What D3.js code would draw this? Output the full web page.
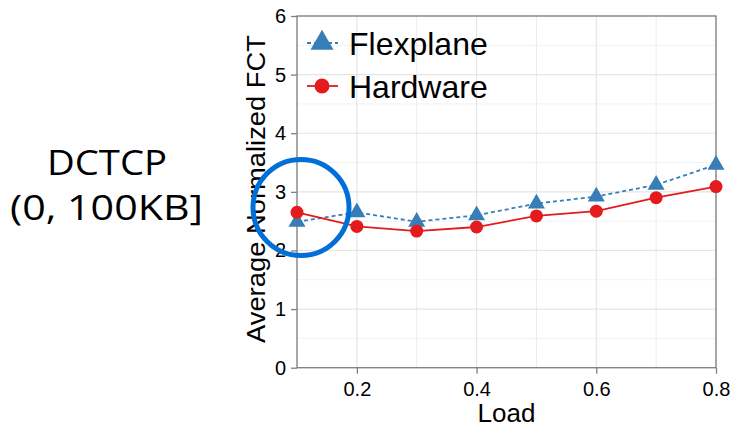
<!DOCTYPE html>
<html>
<head>
<meta charset="utf-8">
<script src="https://cdn.jsdelivr.net/npm/d3@7"></script>
<style>
  body { margin: 0; background: #fff; }
  svg { display: block; }
</style>
</head>
<body>
<svg id="chart" width="732" height="424"></svg>
<script>
// data
const loads = [0.1, 0.2, 0.3, 0.4, 0.5, 0.6, 0.7, 0.8];
const flexplane = [2.49, 2.65, 2.49, 2.60, 2.80, 2.92, 3.12, 3.46];
const hardware = [2.65, 2.41, 2.33, 2.40, 2.59, 2.67, 2.90, 3.09];
const xTicks = [0.2, 0.4, 0.6, 0.8];
const yTicks = [0, 1, 2, 3, 4, 5, 6];
const seriesNames = ['Flexplane', 'Hardware'];

const svg = d3.select('#chart');
const x = d3.scaleLinear().domain([0.1, 0.8]).range([297, 716]);
const y = d3.scaleLinear().domain([0, 6]).range([367.7, 16]);
const blue = '#377eb8', red = '#e41a1c';
const font = 'Liberation Sans, Arial, Helvetica, sans-serif';

// grid lines
const minorX = [0.1, 0.3, 0.5, 0.7];
const minorY = d3.range(0.5, 6, 1);
svg.append('g').selectAll('line').data(minorY).join('line')
    .attr('x1', x(0.1)).attr('x2', x(0.8))
    .attr('y1', d => y(d)).attr('y2', d => y(d))
    .attr('stroke', '#f2f2f2').attr('stroke-width', 1);
svg.append('g').selectAll('line').data(minorX).join('line')
    .attr('y1', y(0)).attr('y2', y(6))
    .attr('x1', d => x(d)).attr('x2', d => x(d))
    .attr('stroke', '#ebebeb').attr('stroke-width', 1);
svg.append('g').selectAll('line').data(yTicks).join('line')
    .attr('x1', x(0.1)).attr('x2', x(0.8))
    .attr('y1', d => y(d)).attr('y2', d => y(d))
    .attr('stroke', '#e5e5e5').attr('stroke-width', 1.2);
svg.append('g').selectAll('line').data(xTicks).join('line')
    .attr('y1', y(0)).attr('y2', y(6))
    .attr('x1', d => x(d)).attr('x2', d => x(d))
    .attr('stroke', '#e5e5e5').attr('stroke-width', 1.2);

// panel border
svg.append('rect')
    .attr('x', x(0.1)).attr('y', y(6))
    .attr('width', x(0.8) - x(0.1)).attr('height', y(0) - y(6))
    .attr('fill', 'none').attr('stroke', '#7f7f7f').attr('stroke-width', 1.3);

// axes
const xAxis = svg.append('g').attr('transform', `translate(0,${y(0)})`)
    .call(d3.axisBottom(x).tickValues(xTicks).tickFormat(d3.format('.1f')).tickSize(6).tickPadding(8));
const yAxis = svg.append('g').attr('transform', `translate(${x(0.1)},0)`)
    .call(d3.axisLeft(y).tickValues(yTicks).tickFormat(d3.format('d')).tickSize(6).tickPadding(5));
[xAxis, yAxis].forEach(a => {
  a.select('.domain').remove();
  a.selectAll('line').attr('stroke', '#7f7f7f').attr('stroke-width', 1.3);
  a.selectAll('text').attr('fill', '#000').style('font-family', font).style('font-size', '20px');
});

// axis titles
svg.append('text').attr('x', x(0.45)).attr('y', 422)
    .attr('text-anchor', 'middle').style('font-family', font).style('font-size', '26px')
    .text('Load');
svg.append('text').attr('transform', 'translate(265,189) rotate(-90)')
    .attr('text-anchor', 'middle').style('font-family', font).style('font-size', '25px')
    .attr('textLength', 308).attr('lengthAdjust', 'spacingAndGlyphs')
    .text('Average Normalized FCT');

// lines
const line = d3.line().x((d, i) => x(loads[i])).y(d => y(d));
svg.append('path').datum(flexplane).attr('d', line)
    .attr('fill', 'none').attr('stroke', blue).attr('stroke-width', 1.8)
    .attr('stroke-dasharray', '4,3');
svg.append('path').datum(hardware).attr('d', line)
    .attr('fill', 'none').attr('stroke', red).attr('stroke-width', 1.8);

// markers
const tri = d3.symbol().type(d3.symbolTriangle).size(125);
const triBig = d3.symbol().type(d3.symbolTriangle).size(230);
svg.append('g').selectAll('path').data(flexplane).join('path')
    .attr('d', tri)
    .attr('transform', (d, i) => `translate(${x(loads[i])},${y(d)})`)
    .attr('fill', blue);
svg.append('g').selectAll('circle').data(hardware).join('circle')
    .attr('cx', (d, i) => x(loads[i])).attr('cy', d => y(d)).attr('r', 6.5)
    .attr('fill', red);

// legend
const lg = svg.append('g');
[0, 1].forEach(i => {
  const ly = 43 + i * 43;
  lg.append('line').attr('x1', 307).attr('x2', 338).attr('y1', ly).attr('y2', ly)
    .attr('stroke', i ? red : blue).attr('stroke-width', 1.8)
    .attr('stroke-dasharray', i ? null : '4,3');
  if (i) {
    lg.append('circle').attr('cx', 322).attr('cy', ly).attr('r', 7.5).attr('fill', red);
  } else {
    lg.append('path').attr('d', triBig).attr('transform', `translate(322,${ly})`).attr('fill', blue);
  }
  lg.append('text').attr('x', 349).attr('y', ly + 12)
    .style('font-family', font).style('font-size', '32px')
    .text(seriesNames[i]);
});

// side label
const side = svg.append('g').attr('text-anchor', 'middle')
    .style('font-family', 'Open Sans, Noto Sans, sans-serif').style('font-size', '35px');
side.append('text').attr('x', 107).attr('y', 175)
    .attr('textLength', 120).attr('lengthAdjust', 'spacingAndGlyphs').text('DCTCP');
side.append('text').attr('x', 106.5).attr('y', 220)
    .attr('textLength', 193).attr('lengthAdjust', 'spacingAndGlyphs').text('(0, 100KB]');

// highlight circle
svg.append('circle').attr('cx', 301).attr('cy', 207.5).attr('r', 48)
    .attr('fill', 'none').attr('stroke', '#0070d8').attr('stroke-width', 5);
</script>
</body>
</html>
